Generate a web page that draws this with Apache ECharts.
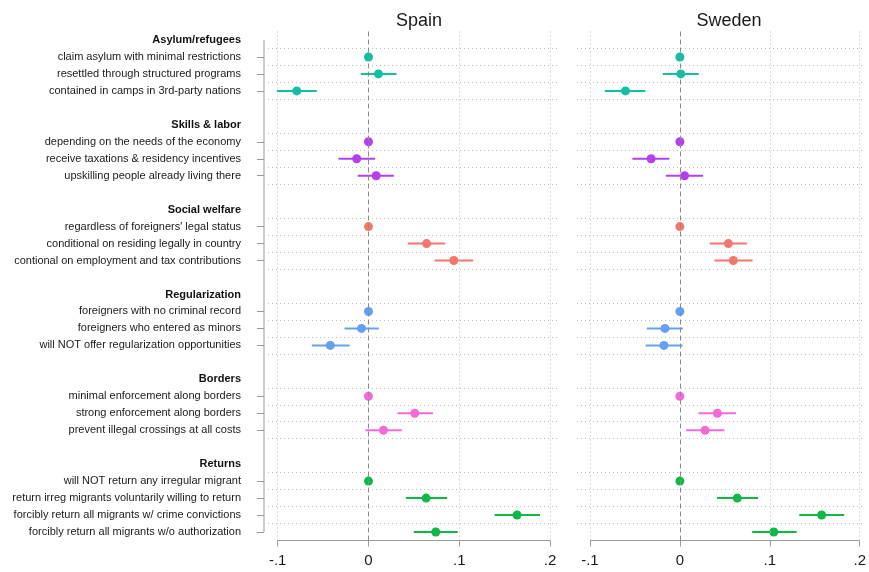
<!DOCTYPE html>
<html>
<head>
<meta charset="utf-8">
<script src="https://cdn.jsdelivr.net/npm/echarts@6/dist/echarts.min.js"></script>
<style>
html,body{margin:0;padding:0;background:#fff;}
#chart{width:869px;height:572px;}
</style>
</head>
<body>
<div id="chart"></div>
<script>
// ---------- DATA ----------
const panels = ['Spain', 'Sweden'];
const groups = ['Asylum/refugees', 'Skills & labor', 'Social welfare', 'Regularization', 'Borders', 'Returns'];
const items = [
  'claim asylum with minimal restrictions',
  'resettled through structured programs',
  'contained in camps in 3rd-party nations',
  'depending on the needs of the economy',
  'receive taxations & residency incentives',
  'upskilling people already living there',
  "regardless of foreigners' legal status",
  'conditional on residing legally in country',
  'contional on employment and tax contributions',
  'foreigners with no criminal record',
  'foreigners who entered as minors',
  'will NOT offer regularization opportunities',
  'minimal enforcement along borders',
  'strong enforcement along borders',
  'prevent illegal crossings at all costs',
  'will NOT return any irregular migrant',
  'return irreg migrants voluntarily willing to return',
  'forcibly return all migrants w/ crime convictions',
  'forcibly return all migrants w/o authorization'
];
const itemGroup = [0,0,0, 1,1,1, 2,2,2, 3,3,3, 4,4,4, 5,5,5,5];

const spainEst = [0, 0.011, -0.079, 0, -0.013, 0.0085, 0, 0.064, 0.094, 0, -0.0077, -0.042, 0, 0.051, 0.0165, 0, 0.0635, 0.1637, 0.0741];
const spainLo  = [null, -0.0085, -0.101, null, -0.033, -0.0118, null, 0.0433, 0.0727, null, -0.0264, -0.0624, null, 0.032, -0.0033, null, 0.0411, 0.139, 0.0499];
const spainHi  = [null, 0.031, -0.057, null, 0.0073, 0.028, null, 0.0845, 0.1153, null, 0.0114, -0.0209, null, 0.0712, 0.0367, null, 0.0867, 0.189, 0.0983];

const swedenEst = [0, 0.001, -0.0605, 0, -0.032, 0.0052, 0, 0.0539, 0.0594, 0, -0.0166, -0.0177, 0, 0.0417, 0.028, 0, 0.0638, 0.1576, 0.1044];
const swedenLo  = [null, -0.019, -0.0834, null, -0.0528, -0.0155, null, 0.0332, 0.0384, null, -0.0369, -0.038, null, 0.0207, 0.007, null, 0.0413, 0.1328, 0.0804];
const swedenHi  = [null, 0.021, -0.0384, null, -0.0118, 0.0258, null, 0.0745, 0.0808, null, 0.0033, 0.003, null, 0.0624, 0.0495, null, 0.087, 0.1827, 0.1299];

const xTicks = [-0.1, 0, 0.1, 0.2];
const xTickLabels = ['-.1', '0', '.1', '.2'];

// ---------- STYLE ----------
const groupColors = ['#10BFA4', '#B43FF0', '#F4776C', '#64A0F6', '#F46AD9', '#10B846'];
const FONT = '"Liberation Sans", Arial, sans-serif';
const gridColor = '#bdbdbd';
const axisColor = '#9a9a9a';

// ---------- ROW LAYOUT ----------
const headerPos = [];
const itemPos = [];
let r = 0;
groups.forEach((g, gi) => {
  headerPos.push(r); r++;
  itemGroup.forEach((ig, k) => { if (ig === gi) { itemPos[k] = r; r++; } });
  r++;
});
const yMin = -0.5, yMax = 29.5;
const labelMap = {};
headerPos.forEach((p, gi) => { labelMap[p] = '{b|' + groups[gi] + '}'; });
itemPos.forEach((p, k) => { labelMap[p] = '{n|' + items[k] + '}'; });
const labelPositions = headerPos.concat(itemPos).sort((a, b) => a - b);

const hLines = [];
groups.forEach((g, gi) => {
  const n = itemGroup.filter(v => v === gi).length;
  for (let j = 0; j <= n; j++) {
    const v = headerPos[gi] + 0.5 + j;
    if (v < yMax - 0.01) hLines.push(v);
  }
});

const xRanges = [[-0.1107, 0.211], [-0.1144, 0.2059]];
const gridsPx = [{left: 268, right: 869 - 560}, {left: 577, right: 869 - 867}];

const est = [spainEst, swedenEst], lo = [spainLo, swedenLo], hi = [spainHi, swedenHi];

const grids = [], xAxes = [], yAxes = [], series = [], titles = [];
panels.forEach((name, pi) => {
  grids.push({left: gridsPx[pi].left, right: gridsPx[pi].right, top: 31.5, bottom: 31.5, containLabel: false});
  titles.push({
    text: name,
    left: (gridsPx[pi].left + (869 - gridsPx[pi].right)) / 2 + (pi === 1 ? 2 : 0),
    top: 7,
    textAlign: 'center',
    textStyle: {fontFamily: FONT, fontSize: 18, fontWeight: 'normal', color: '#1a1a1a'}
  });
  xAxes.push({
    type: 'value', gridIndex: pi, min: xRanges[pi][0], max: xRanges[pi][1],
    position: 'bottom',
    axisLine: {show: false, onZero: false},
    splitLine: {show: false},
    axisTick: {show: true, customValues: xTicks, length: 6, lineStyle: {color: axisColor, width: 1}},
    axisLabel: {
      show: true, customValues: xTicks, margin: 13,
      fontFamily: FONT, fontSize: 15, color: '#1a1a1a',
      formatter: v => { const i = xTicks.findIndex(t => Math.abs(t - v) < 1e-9); return i >= 0 ? xTickLabels[i] : ''; }
    }
  });
  yAxes.push({
    type: 'value', gridIndex: pi, min: yMin, max: yMax, inverse: true,
    position: 'left',
    offset: 4,
    axisLine: {show: false, onZero: false},
    splitLine: {show: false},
    axisTick: {show: pi === 0, customValues: itemPos, length: 7, lineStyle: {color: axisColor, width: 1}},
    axisLabel: {
      show: pi === 0, customValues: labelPositions, margin: 23,
      fontFamily: FONT, fontSize: 11, color: '#1a1a1a',
      formatter: v => labelMap[Math.round(v)] || '',
      rich: {
        b: {fontFamily: FONT, fontSize: 11, fontWeight: 'bold', color: '#111'},
        n: {fontFamily: FONT, fontSize: 11, color: '#1a1a1a'}
      }
    }
  });

  // grid lines
  series.push({
    type: 'scatter', xAxisIndex: pi, yAxisIndex: pi, data: [], silent: true, z: 1,
    markLine: {
      silent: true, symbol: 'none', label: {show: false}, animation: false,
      data: hLines.map(v => ({yAxis: v, lineStyle: {color: gridColor, type: [1, 3], width: 1}}))
        .concat([-0.1, 0.1, 0.2].map(v => ({xAxis: v, lineStyle: {color: gridColor, type: [1, 3], width: 1}})))
        .concat([{xAxis: 0, lineStyle: {color: '#8a8a8a', type: [5, 3], width: 1}}])
    }
  });

  // axis lines
  series.push({
    type: 'custom', xAxisIndex: pi, yAxisIndex: pi, silent: true, z: 2, clip: false,
    data: [[0]],
    renderItem: (params, api) => {
      const children = [];
      const a = api.coord([xTicks[0], yMax]);
      const b = api.coord([xTicks[xTicks.length - 1], yMax]);
      children.push({type: 'line', shape: {x1: a[0], y1: a[1], x2: b[0], y2: b[1]}, style: {stroke: axisColor, lineWidth: 1}});
      if (pi === 0) {
        const c = api.coord([xRanges[pi][0], headerPos[0]]);
        const d = api.coord([xRanges[pi][0], itemPos[itemPos.length - 1]]);
        children.push({type: 'line', shape: {x1: c[0] - 4, y1: c[1], x2: d[0] - 4, y2: d[1]}, style: {stroke: axisColor, lineWidth: 1}});
      }
      return {type: 'group', children: children};
    }
  });

  // CIs
  const ciData = [];
  items.forEach((it, k) => {
    if (lo[pi][k] !== null) ciData.push([lo[pi][k], hi[pi][k], itemPos[k], itemGroup[k]]);
  });
  series.push({
    type: 'custom', xAxisIndex: pi, yAxisIndex: pi, z: 3,
    encode: {x: [0, 1], y: 2},
    data: ciData,
    renderItem: (params, api) => {
      const p1 = api.coord([api.value(0), api.value(2)]);
      const p2 = api.coord([api.value(1), api.value(2)]);
      return {type: 'line', shape: {x1: p1[0], y1: p1[1], x2: p2[0], y2: p2[1]},
        style: {stroke: groupColors[api.value(3)], lineWidth: 2}};
    }
  });

  // points
  series.push({
    type: 'scatter', xAxisIndex: pi, yAxisIndex: pi, z: 4,
    symbol: 'circle', symbolSize: 9,
    data: items.map((it, k) => [est[pi][k], itemPos[k], itemGroup[k]]),
    itemStyle: {opacity: 1, color: p => groupColors[p.data[2]]}
  });
});

const chart = echarts.init(document.getElementById('chart'), null, {renderer: 'canvas'});
chart.setOption({
  backgroundColor: '#ffffff',
  animation: false,
  title: titles,
  grid: grids,
  xAxis: xAxes,
  yAxis: yAxes,
  series: series
});
</script>
</body>
</html>
